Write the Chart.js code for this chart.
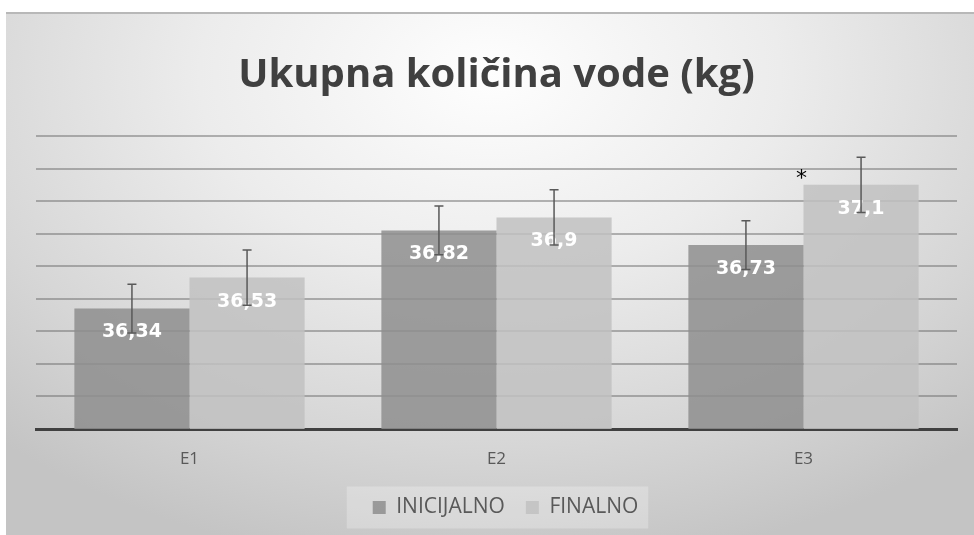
<!DOCTYPE html>
<html>
<head>
<meta charset="utf-8">
<script src="https://cdn.jsdelivr.net/npm/chart.js@4"></script>
<style>
  html, body { margin: 0; padding: 0; background: #fff; }
  #wrap {
    position: absolute; left: 6px; top: 12px; width: 968px; height: 523px;
    background: radial-gradient(ellipse 75% 95% at 50% 12%, #fefefe 0%, #ececec 40%, #d6d6d6 75%, #c4c4c4 100%);
    box-shadow: inset 0 2px 0 #b8b8b8;
  }
</style>
</head>
<body>
<div id="wrap"><canvas id="myChart" width="968" height="523"></canvas></div>
<script>
const categories = ["E1", "E2", "E3"];
const inicijalno = [36.34, 36.82, 36.73];
const finalno = [36.53, 36.9, 37.1];
const inicijalnoErr = [0.15, 0.15, 0.15];
const finalnoErr = [0.17, 0.17, 0.17];
const finalnoMarks = ["", "", "*"];
const errors = [inicijalnoErr, finalnoErr];
const marks = [["", "", ""], finalnoMarks];

// error bars + value labels + significance marks
const barExtras = {
  id: "barExtras",
  afterDatasetsDraw(chart) {
    const ctx = chart.ctx;
    const y = chart.scales.y;
    ctx.save();
    chart.data.datasets.forEach((ds, di) => {
      chart.getDatasetMeta(di).data.forEach((bar, i) => {
        // label
        ctx.font = "bold 19px 'DejaVu Sans'";
        ctx.fillStyle = "#ffffff";
        ctx.textAlign = "center";
        ctx.textBaseline = "middle";
        ctx.fillText(String(ds.data[i]).replace(".", ","), bar.x, bar.y + 24);
        // error bar
        const e = errors[di][i];
        const top = y.getPixelForValue(ds.data[i] + e);
        const bot = y.getPixelForValue(ds.data[i] - e);
        ctx.strokeStyle = "#595959";
        ctx.lineWidth = 1.5;
        ctx.beginPath();
        ctx.moveTo(bar.x, top); ctx.lineTo(bar.x, bot);
        ctx.moveTo(bar.x - 4.5, top); ctx.lineTo(bar.x + 4.5, top);
        ctx.moveTo(bar.x - 4.5, bot); ctx.lineTo(bar.x + 4.5, bot);
        ctx.stroke();
        // mark
        const m = marks[di][i];
        if (m) {
          ctx.font = "22px 'DejaVu Sans'";
          ctx.fillStyle = "#000";
          ctx.textBaseline = "alphabetic";
          ctx.fillText(m, bar.x - bar.width / 2 - 2, bar.y);
        }
      });
    });
    ctx.restore();
  }
};

// nudge legend right a bit and put a light box behind it
const legendBox = {
  id: "legendBox",
  afterLayout(chart) {
    if (!chart.legend) return;
    chart.legend.left += 9;
    chart.legend.right += 9;
  },
  beforeDraw(chart) {
    const boxes = chart.legend && chart.legend.legendHitBoxes;
    if (!boxes || !boxes.length) return;
    const l = Math.min(...boxes.map(b => b.left)) - 26;
    const r = Math.max(...boxes.map(b => b.left + b.width)) + 10;
    const mid = boxes[0].top + boxes[0].height / 2;
    const ctx = chart.ctx;
    ctx.save();
    ctx.fillStyle = "rgba(255,255,255,0.25)";
    ctx.fillRect(l, mid - 21, r - l, 42);
    ctx.restore();
  }
};

new Chart(document.getElementById("myChart").getContext("2d"), {
  type: "bar",
  data: {
    labels: categories,
    datasets: [
      {
        label: "INICIJALNO",
        data: inicijalno,
        backgroundColor: "rgba(142,142,142,0.85)",
        borderWidth: 0,
        categoryPercentage: 0.75,
        barPercentage: 1.0,
      },
      {
        label: "FINALNO",
        data: finalno,
        backgroundColor: "rgba(193,193,193,0.85)",
        borderWidth: 0,
        categoryPercentage: 0.75,
        barPercentage: 1.0,
      },
    ],
  },
  options: {
    responsive: false,
    animation: false,
    layout: { padding: { top: 10, left: 30, right: 17, bottom: 7 } },
    plugins: {
      title: {
        display: true,
        text: "Ukupna količina vode (kg)",
        color: "#404040",
        font: { family: "Open Sans", weight: "bold", size: 40 },
        padding: { top: 30, bottom: 36 },
      },
      legend: {
        position: "bottom",
        labels: {
          color: "#595959",
          font: { family: "Open Sans", size: 21 },
          boxWidth: 13,
          boxHeight: 13,
          padding: 21,
        },
      },
      tooltip: { enabled: false },
    },
    scales: {
      x: {
        grid: { display: false, drawTicks: false },
        border: { display: true, color: "#404040", width: 3 },
        ticks: { color: "#595959", font: { family: "Open Sans", size: 17 }, padding: 20 },
        afterFit(s) { s.height = 47; },
      },
      y: {
        min: 35.6,
        max: 37.4,
        ticks: { display: false, stepSize: 0.2 },
        grid: { color: "rgba(110,110,110,0.5)", lineWidth: 2, drawTicks: false },
        border: { display: false },
      },
    },
  },
  plugins: [legendBox, barExtras],
});
</script>
</body>
</html>
